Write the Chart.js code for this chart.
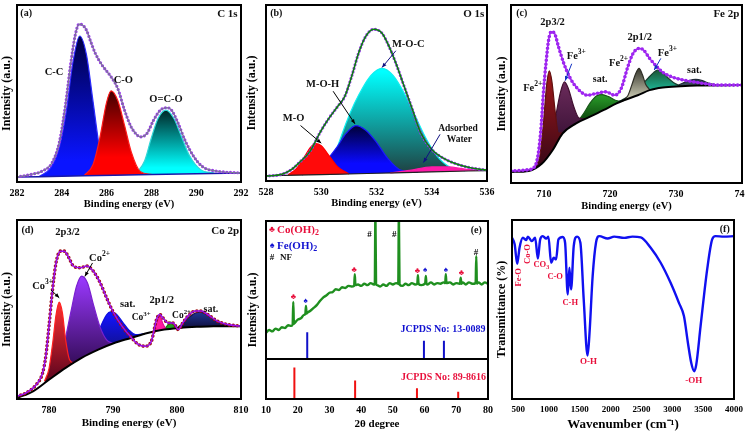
<!DOCTYPE html>
<html>
<head>
<meta charset="utf-8">
<script src="https://cdn.jsdelivr.net/npm/chart.js@4.4.1/dist/chart.umd.min.js"></script>
<style>
  body { margin: 0; background: #fff; width: 745px; height: 432px; position: relative; overflow: hidden; }
  canvas { position: absolute; }
</style>
</head>
<body>
<canvas id="pa"></canvas>
<canvas id="pb"></canvas>
<canvas id="pc"></canvas>
<canvas id="pd"></canvas>
<canvas id="pe1"></canvas>
<canvas id="pe2"></canvas>
<canvas id="pf"></canvas>
<script>
const SERIF = '"Liberation Serif", "Times New Roman", serif';

// ---- (a) C 1s ----
const aTicks = [282, 284, 286, 288, 290, 292];
const aEnvX = [282, 282.7, 283.1, 283.57, 283.9, 284.17, 284.4, 284.6, 284.77, 284.92, 285.1, 285.3, 285.5, 285.8, 286.2, 286.5, 286.8, 287.1, 287.3, 287.5, 287.8, 288.1, 288.4, 288.7, 288.9, 289.2, 289.5, 289.9, 290.3, 290.9, 292];
const aEnvY = [2.8, 4.5, 6, 11, 23, 44, 67, 83, 89.2, 88.7, 85.8, 79, 72.6, 66, 59.4, 52.8, 40.6, 31, 27.4, 25.5, 27.4, 35, 40.6, 42, 40.6, 33, 23.6, 14.2, 8.5, 6.2, 5.1];
const aBaseX = [282, 285, 288, 292];
const aBaseY = [2.8, 3.5, 4.3, 5.1];
const aCCx = [283.0, 283.5, 283.9, 284.2, 284.5, 284.8, 285.1, 285.4, 285.7, 286.0];
const aCCy = [3.2, 8, 20, 40, 68, 82.5, 72, 45, 18, 4.5];
const aCOx = [285.0, 285.4, 285.7, 286.0, 286.2, 286.5, 286.8, 287.1, 287.5, 288.0];
const aCOy = [3.6, 10, 25, 45, 51.5, 46, 32, 17, 6, 4.3];
const aOCOx = [287.3, 287.7, 288.0, 288.3, 288.65, 289.0, 289.3, 289.7, 290.2, 290.8];
const aOCOy = [4.3, 12, 25, 36, 40.6, 36, 27, 15, 7, 5];

// ---- (b) O 1s ----
const bTicks = [528, 530, 532, 534, 536];
const bEnvX = [528, 528.57, 528.93, 529.2, 529.6, 529.95, 530.25, 530.6, 530.85, 531.1, 531.35, 531.6, 531.9, 532.2, 532.4, 532.7, 533.0, 533.3, 533.6, 534.0, 534.5, 534.95, 535.4, 536];
const bEnvY = [2.8, 3.8, 6.6, 10.4, 17, 27.4, 35, 42.5, 48, 59.4, 72.6, 81.9, 86.2, 84, 78.3, 67, 53.8, 40.6, 27.4, 17.9, 12.3, 9.4, 7.5, 6.2];
const bBaseX = [528, 530, 532, 534, 536];
const bBaseY = [3.0, 3.6, 4.4, 5.2, 5.9];
const bMOx = [528.8, 529.1, 529.4, 529.6, 529.8, 530.0, 530.3, 530.6, 531.0];
const bMOy = [3.4, 7, 14, 19, 21.3, 20, 14, 8, 4];
const bMOHx = [529.3, 529.8, 530.2, 530.6, 530.9, 531.25, 531.6, 532.0, 532.4, 532.9, 533.5];
const bMOHy = [3.5, 7, 12, 20, 27, 31.5, 29, 22, 13, 6, 5];
const bMOCx = [530.2, 530.6, 530.9, 531.2, 531.5, 531.8, 532.2, 532.6, 533.0, 533.4, 533.8, 534.2, 534.7, 535.2];
const bMOCy = [4, 20, 33, 44, 53, 60, 64, 60, 50, 37, 24, 14, 7.5, 5.8];
const bH2Ox = [532.5, 533.2, 534.0, 534.6, 535.2, 535.8];
const bH2Oy = [4.6, 6.0, 8.0, 8.0, 6.8, 6.0];

// ---- (c) Fe 2p ----
const cTicks = [710, 720, 730, 740];
const cEnvX = [705, 707.7, 708.7, 709.2, 709.6, 709.9, 710.3, 710.7, 711.1, 711.6, 712.2, 713.0, 714.0, 715.3, 716.6, 717.9, 719.4, 720.7, 721.7, 722.7, 723.5, 724.4, 725.0, 726.0, 727.1, 728.1, 729.6, 731.2, 732.7, 734.2, 736.3, 738.3, 740];
const cEnvY = [6.8, 7.5, 9.9, 18.4, 33.4, 50.3, 67.2, 80.3, 85, 84, 76.5, 67.2, 58.7, 52.2, 49.3, 50.3, 51.2, 49.3, 53.1, 65.3, 72.8, 75.6, 75, 70, 65.3, 61.9, 59.3, 57.8, 56.8, 55.9, 55, 55, 55];
const cBaseX = [705, 707.7, 709.7, 711.3, 712.8, 714.8, 716.9, 719, 721, 722.1, 724.2, 726, 728, 730.7, 733.2, 740];
const cBaseY = [6.2, 6.8, 10.9, 18.4, 27.8, 33.4, 37.1, 40.9, 44.7, 46.5, 49.3, 52.2, 53.7, 54.4, 54.8, 55];
const cFe2x = [708.8, 709.4, 709.9, 710.4, 710.8, 711.2, 711.7, 712.2, 712.8];
const cFe2y = [9.5, 16, 33, 55, 63, 57, 40, 28, 28];
const cFe3x = [710.2, 711.0, 711.8, 712.5, 713.1, 713.7, 714.5, 715.3, 716.2];
const cFe3y = [13, 22, 38, 51, 56.8, 53, 43, 36.5, 36];
const cSat1x = [715.0, 716.0, 717.0, 718.0, 718.8, 719.8, 720.8, 721.8, 722.6];
const cSat1y = [34, 39, 45, 49, 49.7, 48.5, 46.5, 46, 47.5];
const cFe2bx = [722.0, 722.7, 723.3, 723.9, 724.4, 724.9, 725.4, 726.0];
const cFe2by = [46.5, 49, 55, 61.5, 64.4, 61, 55.5, 52.5];
const cFe3bx = [720.8, 722.0, 723.5, 724.8, 725.8, 726.6, 727.2, 728.0, 728.8, 729.6, 730.6];
const cFe3by = [44.5, 47, 50.5, 55, 59, 62, 63.4, 62, 59, 56.5, 54.5];
const cSat2x = [730.0, 731.0, 732.0, 733.0, 734.0, 735.0, 736.5];
const cSat2y = [54.3, 56, 57.6, 58.2, 57.5, 56, 55];

// ---- (d) Co 2p ----
const dTicks = [780, 790, 800, 810];
const dEnvX = [775, 776.4, 778, 779, 779.5, 780, 780.5, 781.1, 781.8, 782.4, 783.1, 783.8, 784.9, 785.9, 786.9, 788, 789, 790.1, 791.4, 792.7, 794, 795, 796, 796.8, 797.3, 797.8, 798.6, 799.4, 800.2, 800.9, 801.7, 802.8, 803.8, 804.8, 806.3, 807.9, 810];
const dEnvY = [1.5, 3.4, 8, 14.5, 23.9, 40.7, 59.3, 76.1, 82.6, 82.6, 78.9, 74.3, 73.3, 74.3, 71.5, 64.9, 56.5, 48.1, 40.7, 35, 30.4, 29.5, 32.3, 44.4, 47.2, 45.3, 42.5, 42.5, 38.8, 42.5, 46.3, 49.1, 49.1, 47.2, 43.5, 41.6, 40.7];
const dBaseX = [775, 777.5, 780, 782.6, 785.1, 787.7, 790.2, 792.8, 795.4, 798, 800.5, 803.1, 805.7, 810];
const dBaseY = [0.6, 4.3, 10.8, 17.4, 23, 27.6, 31.3, 34.1, 36.9, 38.8, 39.7, 40.3, 40.7, 40.7];
const dCo3x = [779.3, 780.0, 780.6, 781.1, 781.6, 782.1, 782.6, 783.2, 783.9];
const dCo3y = [10, 17, 32, 47, 54.1, 48, 33, 22, 20];
const dCo2x = [780.3, 781.5, 782.5, 783.5, 784.3, 785.1, 786.0, 787.0, 788.0, 789.0, 790.0];
const dCo2y = [12, 20, 33, 50, 63, 68.7, 65, 52, 40, 33, 31];
const dSat1x = [785.5, 786.8, 788.0, 789.0, 789.6, 790.5, 791.5, 792.5, 793.5, 795.0];
const dSat1y = [24, 30, 40, 47, 48.7, 47.5, 43, 38.5, 36, 36.5];
const dCo3bx = [796.3, 796.8, 797.3, 797.8, 798.3];
const dCo3by = [38.2, 42, 46.3, 42, 38.9];
const dCo2bx = [798.0, 798.5, 799.0, 799.5, 800.2];
const dCo2by = [38.8, 41, 43, 41, 39.7];
const dSat2x = [800.0, 801.0, 802.0, 803.0, 803.5, 804.5, 805.5, 806.5, 807.5, 808.5];
const dSat2y = [39.7, 42.5, 46, 48.2, 48.5, 47.5, 45, 43, 41.5, 40.7];

// ---- (e) XRD ----
const eTicks = [10, 20, 30, 40, 50, 60, 70, 80];
const eXrdX = [10, 11, 12, 13, 14, 15, 16, 17, 18, 18.4, 18.6, 18.8, 19, 20, 21, 22, 22.4, 22.6, 22.8, 23, 24, 25, 26, 27, 28, 29, 30, 31, 32, 33, 34, 35, 36, 37, 37.8, 38.0, 38.2, 39, 40, 41, 42, 43, 44, 44.3, 44.5, 44.7, 45, 46, 47, 48, 49, 50, 51, 51.7, 51.9, 52.1, 53, 54, 55, 56, 57, 57.7, 57.9, 58.1, 59, 60.2, 60.4, 60.6, 61, 62, 63, 64, 65, 66, 66.5, 66.7, 66.9, 68, 69, 70, 71, 71.2, 71.4, 71.6, 72, 73, 74, 75, 76.1, 76.3, 76.5, 77, 78, 79, 80];
const eXrdY = [19, 21, 20, 22, 21, 23, 22.5, 24.5, 24, 25, 41.4, 25.5, 26, 28.5, 29.5, 32, 32.5, 38.5, 33, 33.5, 35, 37, 39, 42, 44.5, 46, 48, 48.5, 50.5, 50, 52, 51.5, 53, 52.5, 53, 61.4, 53.5, 54, 53, 54.5, 53.5, 55, 54, 54, 105, 54.5, 53.5, 52.5, 54, 53, 55, 54, 55, 54.5, 105, 54, 53, 54.5, 53.5, 55, 54, 54.5, 60.7, 54.5, 53.5, 55, 60.2, 54.5, 54, 55.5, 54, 55, 54.5, 55.5, 55, 61.4, 55, 55.5, 54, 55, 54.5, 55, 59, 54.5, 55.5, 54, 55.5, 54.5, 55, 74.7, 54.5, 55.5, 54, 55.5, 54.5];
const eRefBlueX = [23.0, 59.8, 66.1];
const eRefBlueH = [19.3, 13.3, 13.3];
const eRefRedX = [18.95, 38.1, 57.6, 70.6];
const eRefRedH = [79, 46, 27, 18];

// ---- (f) FTIR ----
const fTicks = [500, 1000, 1500, 2000, 2500, 3000, 3500, 4000];
const fIrX = [400, 443, 485, 522, 576, 630, 657, 722, 776, 819, 857, 900, 953, 991, 1034, 1077, 1115, 1153, 1223, 1261, 1304, 1331, 1358, 1401, 1455, 1509, 1563, 1625, 1654, 1708, 1762, 1816, 1950, 2057, 2219, 2353, 2488, 2649, 2811, 2972, 3107, 3188, 3253, 3307, 3355, 3388, 3458, 3565, 3646, 3700, 3835, 4000];
const fIrY = [90.1, 86.4, 75.5, 84.5, 90.1, 88.8, 90.7, 88.2, 90.1, 78.4, 89.2, 91, 89.6, 90.7, 76.1, 78.9, 78, 89.2, 90.5, 87.3, 58.4, 73.3, 61.2, 85.4, 90.7, 87.3, 55.6, 24.3, 35.1, 68.7, 87.3, 91, 89.7, 90.7, 90, 90.7, 90.3, 84.5, 76.1, 64.9, 53.7, 46.3, 31.3, 20.1, 15.5, 19.2, 40.7, 72.4, 89.2, 91, 90.7, 91];

const RED = '#e8103c';
const BLUE = '#1010d0';

// Funções auxiliares
function curve(xs, ys, o) {
    return Object.assign({
        data: xs.map((x, i) => ({ x: x, y: ys[i] })),
        pointRadius: 0, borderWidth: 1, tension: 0.4,
        cubicInterpolationMode: 'monotone', fill: false
    }, o);
}

// pontinhos do envelope (traço de comprimento zero com ponta redonda)
function dots(xs, ys, color, w) {
    return curve(xs, ys, { borderColor: color, borderWidth: w, borderDash: [0, w + 0.4], borderCapStyle: 'round', order: 1 });
}

// componente preenchido até a linha de base (dataset 1)
function peak(xs, ys, bg, line, order) {
    return curve(xs, ys, { backgroundColor: bg, borderColor: line, borderWidth: 1.2, fill: 1, order: order });
}

function vgrad(c1, v1, c2, v2) {
    return (ctx) => {
        const ch = ctx.chart;
        const y = ch.scales && ch.scales.y;
        if (!ch.chartArea || !y) return c2;
        const g = ch.ctx.createLinearGradient(0, y.getPixelForValue(v1), 0, y.getPixelForValue(v2));
        g.addColorStop(0, c1);
        g.addColorStop(1, c2);
        return g;
    };
}

function segments(xs, hs) {
    const out = [];
    xs.forEach((x, i) => { out.push({ x: x, y: 0 }, { x: x, y: hs[i] }, { x: x, y: null }); });
    return out;
}

function drawRich(ctx, px, py, l) {
    const size = l.s || 10.5;
    const m = l.t.match(/^([^_^]*)([_^])(.*)$/);
    const parts = m ? [[m[1], 0], [m[3], m[2] === '^' ? -1 : 1]] : [[l.t, 0]];
    const fontOf = p => `bold ${p[1] ? size * 0.72 : size}px ${SERIF}`;
    let w = 0;
    parts.forEach(p => { ctx.font = fontOf(p); w += ctx.measureText(p[0]).width; });
    ctx.save();
    ctx.translate(px, py);
    if (l.r) ctx.rotate(l.r * Math.PI / 180);
    let sx = l.a === 'left' ? 0 : l.a === 'right' ? -w : -w / 2;
    ctx.fillStyle = l.c || '#111';
    ctx.textBaseline = 'middle';
    ctx.textAlign = 'left';
    parts.forEach(p => {
        ctx.font = fontOf(p);
        const dy = p[1] < 0 ? -size * 0.4 : p[1] > 0 ? size * 0.3 : 0;
        ctx.fillText(p[0], sx, dy);
        sx += ctx.measureText(p[0]).width;
    });
    ctx.restore();
}

function drawArrow(ctx, x1, y1, x2, y2, color) {
    ctx.strokeStyle = color;
    ctx.fillStyle = color;
    ctx.lineWidth = 1;
    ctx.beginPath(); ctx.moveTo(x1, y1); ctx.lineTo(x2, y2); ctx.stroke();
    const ang = Math.atan2(y2 - y1, x2 - x1), L = 5;
    ctx.beginPath();
    ctx.moveTo(x2, y2);
    ctx.lineTo(x2 - L * Math.cos(ang - 0.4), y2 - L * Math.sin(ang - 0.4));
    ctx.lineTo(x2 - L * Math.cos(ang + 0.4), y2 - L * Math.sin(ang + 0.4));
    ctx.closePath();
    ctx.fill();
}

// moldura, setas e textos
function notes(labels, arrows, yTitle) {
    return {
        id: 'notes',
        afterDraw(chart) {
            const { ctx, chartArea: a, scales: { x, y } } = chart;
            ctx.save();
            ctx.strokeStyle = '#000';
            ctx.lineWidth = 2;
            ctx.strokeRect(a.left, a.top, a.right - a.left, a.bottom - a.top);
            (arrows || []).forEach(r => drawArrow(ctx, x.getPixelForValue(r[0]), y.getPixelForValue(r[1]),
                x.getPixelForValue(r[2]), y.getPixelForValue(r[3]), r[4]));
            (labels || []).forEach(l => drawRich(ctx, x.getPixelForValue(l.x), y.getPixelForValue(l.y), l));
            if (yTitle) drawRich(ctx, yTitle.px, yTitle.py, { t: yTitle.t, s: 12, r: -90, c: '#000' });
            ctx.restore();
        }
    };
}

function panel(id, box, area, o) {
    const cv = document.getElementById(id);
    cv.width = box.w; cv.height = box.h;
    cv.style.left = box.l + 'px'; cv.style.top = box.t + 'px';
    const padB = o.padB || 0;
    const xH = o.xHidden ? 0 : box.t + box.h - area[3] - padB;
    return new Chart(cv, {
        type: 'line',
        data: { datasets: o.datasets },
        options: {
            responsive: false, animation: false, events: [],
            layout: { padding: { left: area[0] - box.l - o.yW, right: box.l + box.w - area[2], top: area[1] - box.t, bottom: o.xHidden ? box.t + box.h - area[3] : padB } },
            plugins: { legend: { display: false }, tooltip: { enabled: false } },
            scales: {
                x: {
                    type: 'linear', min: o.xMin, max: o.xMax, display: !o.xHidden,
                    afterBuildTicks: s => { s.ticks = o.xTicks.map(v => ({ value: v })); },
                    afterFit: s => { s.height = xH; s.paddingLeft = 0; s.paddingRight = 0; },
                    grid: { display: false, drawTicks: false }, border: { display: false },
                    ticks: { color: '#000', padding: 5, maxRotation: 0, autoSkip: false, callback: v => String(v), font: { family: SERIF, size: o.tickSize || 10, weight: 'bold' } },
                    title: { display: !!o.xTitle, text: o.xTitle, color: '#000', padding: 0, font: { family: SERIF, size: o.xTitleSize || 11, weight: 'bold' } }
                },
                y: {
                    min: 0, max: 100,
                    afterFit: s => { s.width = o.yW; },
                    grid: { display: false, drawTicks: false }, border: { display: false },
                    ticks: { display: false },
                    title: { display: !!o.yTitle, text: o.yTitle, color: '#000', padding: 0, font: { family: SERIF, size: 12, weight: 'bold' } }
                }
            }
        },
        plugins: [notes(o.labels, o.arrows, o.manualY)]
    });
}

// ---- montar painéis ----
panel('pa', { l: 0, t: 0, w: 256, h: 216 }, [17, 5, 241, 182], {
    xMin: 282, xMax: 292, xTicks: aTicks, xTitle: 'Binding energy (eV)', yTitle: 'Intensity (a.u.)', yW: 17, padB: 5, xTitleSize: 10.5,
    datasets: [
        curve(aEnvX, aEnvY, { borderColor: '#7a7a92', borderWidth: 1.2, order: 0 }),
        curve(aBaseX, aBaseY, { borderColor: '#1818a8', borderWidth: 1.5, order: 2 }),
        dots(aEnvX, aEnvY, '#9a35f0', 3.2),
        peak(aCCx, aCCy, vgrad('#000048', 80, '#0a14ff', 12), '#2a2aff', 5),
        peak(aCOx, aCOy, vgrad('#4a0000', 50, '#ff0000', 14), '#ff1a1a', 3),
        peak(aOCOx, aOCOy, vgrad('#002a2a', 40, '#00ffff', 8), '#30d8d8', 4)
    ],
    labels: [
        { x: 282.15, y: 95, t: '(a)', a: 'left', s: 10 },
        { x: 291.85, y: 95, t: 'C 1s', a: 'right', s: 11 },
        { x: 283.65, y: 62, t: 'C-C' },
        { x: 286.75, y: 57.5, t: 'C-O' },
        { x: 288.65, y: 47, t: 'O=C-O' }
    ]
});

panel('pb', { l: 240, t: 0, w: 256, h: 216 }, [266, 5, 487, 181], {
    xMin: 528, xMax: 536, xTicks: bTicks, xTitle: 'Binding energy (eV)', yTitle: 'Intensity (a.u.)', yW: 21, padB: 6, xTitleSize: 10.5,
    datasets: [
        curve(bEnvX, bEnvY, { borderColor: '#0a820a', borderWidth: 1.5, order: 0 }),
        curve(bBaseX, bBaseY, { borderColor: '#202020', borderWidth: 1.2, order: 2 }),
        dots(bEnvX, bEnvY, '#9a35f0', 3.2),
        peak(bMOx, bMOy, '#ff0a0a', '#ff0000', 3),
        peak(bMOHx, bMOHy, vgrad('#00003a', 31, '#0a0aff', 10), '#1a1aff', 4),
        peak(bMOCx, bMOCy, vgrad('#00ffff', 62, '#1e4646', 6), '#10f0f0', 5),
        peak(bH2Ox, bH2Oy, '#ff1aa8', '#ff1aa8', 3)
    ],
    labels: [
        { x: 528.15, y: 95, t: '(b)', a: 'left', s: 10 },
        { x: 535.9, y: 95, t: 'O 1s', a: 'right', s: 11 },
        { x: 529.0, y: 35.5, t: 'M-O' },
        { x: 530.05, y: 55, t: 'M-O-H' },
        { x: 533.15, y: 77.5, t: 'M-O-C' },
        { x: 534.95, y: 30, t: 'Adsorbed', s: 9.5 },
        { x: 535.0, y: 23.5, t: 'Water', s: 9.5 }
    ],
    arrows: [
        [529.25, 31.5, 530.0, 21.5, '#000'],
        [530.43, 51, 531.22, 32.5, '#000'],
        [532.7, 74, 532.2, 64.5, '#101080'],
        [534.3, 26.5, 533.7, 10.5, '#101080']
    ]
});

panel('pc', { l: 490, t: 0, w: 255, h: 216 }, [511, 5, 742, 183], {
    xMin: 705, xMax: 740, xTicks: cTicks, xTitle: 'Binding energy (eV)', yTitle: 'Intensity (a.u.)', yW: 16, padB: 3, xTitleSize: 10.5,
    datasets: [
        curve(cEnvX, cEnvY, { borderColor: '#a028f0', borderWidth: 1.5, order: 0 }),
        curve(cBaseX, cBaseY, { borderColor: '#000', borderWidth: 2, order: 2 }),
        dots(cEnvX, cEnvY, '#9a20f0', 3.6),
        peak(cFe2x, cFe2y, vgrad('#a01818', 62, '#3a0818', 10), '#601010', 3),
        peak(cFe3x, cFe3y, vgrad('#6a2a5a', 56, '#2a0a2a', 14), '#401030', 4),
        peak(cSat1x, cSat1y, vgrad('#2aa02a', 50, '#0e4a0e', 36), '#185818', 5),
        peak(cFe2bx, cFe2by, vgrad('#3a3a30', 64, '#d0d0b8', 47), '#303028', 3),
        peak(cFe3bx, cFe3by, vgrad('#1a5a3a', 63, '#20e8c8', 46), '#184030', 4),
        peak(cSat2x, cSat2y, vgrad('#2a3a4a', 58, '#4a5a6a', 54), '#202a3a', 5)
    ],
    labels: [
        { x: 705.8, y: 95, t: '(c)', a: 'left', s: 10 },
        { x: 739.6, y: 95, t: 'Fe 2p', a: 'right', s: 11 },
        { x: 711.3, y: 90.5, t: '2p3/2' },
        { x: 708.3, y: 53, t: 'Fe^2+' },
        { x: 714.9, y: 71, t: 'Fe^3+' },
        { x: 718.5, y: 58, t: 'sat.', s: 10 },
        { x: 724.5, y: 82, t: '2p1/2' },
        { x: 721.3, y: 67, t: 'Fe^2+' },
        { x: 728.7, y: 73, t: 'Fe^3+' },
        { x: 732.8, y: 63.5, t: 'sat.', s: 10 }
    ],
    arrows: [
        [714.2, 67, 713.2, 57.5, '#1030c0'],
        [727.7, 70, 726.7, 63.5, '#1030c0']
    ]
});

panel('pd', { l: 0, t: 216, w: 256, h: 216 }, [17, 220, 241, 399], {
    xMin: 775, xMax: 810, xTicks: dTicks, xTitle: 'Binding energy (eV)', yTitle: 'Intensity (a.u.)', yW: 17, padB: 2, xTitleSize: 11,
    datasets: [
        curve(dEnvX, dEnvY, { borderColor: '#9a10f0', borderWidth: 1.5, order: 0 }),
        curve(dBaseX, dBaseY, { borderColor: '#000', borderWidth: 2, order: 2 }),
        dots(dEnvX, dEnvY, '#a01010', 3.6),
        peak(dCo3x, dCo3y, vgrad('#ff3030', 54, '#6a0820', 14), '#ff2020', 3),
        peak(dCo2x, dCo2y, vgrad('#9a38ff', 68, '#2a0848', 14), '#7a20d0', 4),
        peak(dSat1x, dSat1y, vgrad('#1414ff', 48, '#10107a', 25), '#1010e0', 5),
        peak(dCo3bx, dCo3by, '#ff1aa0', '#e01090', 3),
        peak(dCo2bx, dCo2by, '#20a020', '#108010', 3),
        peak(dSat2x, dSat2y, vgrad('#203490', 48, '#101040', 40), '#101050', 5)
    ],
    labels: [
        { x: 775.7, y: 94, t: '(d)', a: 'left', s: 10 },
        { x: 809.7, y: 94, t: 'Co 2p', a: 'right', s: 11 },
        { x: 782.9, y: 93, t: '2p3/2' },
        { x: 779.0, y: 63, t: 'Co^3+' },
        { x: 787.9, y: 78.5, t: 'Co^2+' },
        { x: 792.3, y: 53, t: 'sat.' },
        { x: 797.6, y: 55, t: '2p1/2' },
        { x: 794.4, y: 45.5, t: 'Co^3+', s: 9.5 },
        { x: 800.7, y: 46.5, t: 'Co^2+', s: 9.5 },
        { x: 805.3, y: 50, t: 'sat.', s: 10 }
    ],
    arrows: [
        [780.3, 61, 781.6, 56.5, '#000'],
        [786.8, 76, 785.6, 68.5, '#000']
    ]
});

// (e) parte de cima: difratograma e padrão azul
panel('pe1', { l: 240, t: 216, w: 256, h: 216 }, [266, 221, 488, 359], {
    xMin: 10, xMax: 80, xTicks: eTicks, xHidden: true, yW: 21,
    manualY: { t: 'Intensity (a.u.)', px: 13, py: 94 },
    datasets: [
        curve(eXrdX, eXrdY, { borderColor: '#1f8f1f', borderWidth: 2.4, tension: 0, order: 1 }),
        { data: segments(eRefBlueX, eRefBlueH), borderColor: '#1010c8', borderWidth: 2, pointRadius: 0, tension: 0, spanGaps: false, order: 0 }
    ],
    labels: [
        { x: 11.9, y: 93.7, t: '♣', c: RED, s: 9 },
        { x: 13.5, y: 93.7, t: 'Co(OH)_2', c: RED, a: 'left', s: 11 },
        { x: 11.9, y: 82, t: '♠', c: BLUE, s: 9 },
        { x: 13.5, y: 82, t: 'Fe(OH)_2', c: BLUE, a: 'left', s: 11 },
        { x: 11.9, y: 73.2, t: '#', c: '#000', s: 9 },
        { x: 14.4, y: 73.2, t: 'NF', a: 'left', s: 9 },
        { x: 76.3, y: 93, t: '(e)', s: 10 },
        { x: 18.6, y: 45, t: '♣', c: RED, s: 8 },
        { x: 37.8, y: 64.6, t: '♣', c: RED, s: 8 },
        { x: 57.7, y: 64, t: '♣', c: RED, s: 8 },
        { x: 71.6, y: 62.7, t: '♣', c: RED, s: 8 },
        { x: 22.5, y: 42.2, t: '♠', c: BLUE, s: 8 },
        { x: 60.2, y: 64.3, t: '♠', c: BLUE, s: 8 },
        { x: 66.7, y: 64.3, t: '♠', c: BLUE, s: 8 },
        { x: 42.6, y: 90.4, t: '#', c: '#000', s: 9 },
        { x: 50.4, y: 90.4, t: '#', c: '#000', s: 9 },
        { x: 76.2, y: 77.1, t: '#', c: '#000', s: 9 },
        { x: 65.8, y: 21.5, t: 'JCPDS No: 13-0089', c: BLUE, s: 10 }
    ]
});

// (e) parte de baixo: padrão vermelho
panel('pe2', { l: 240, t: 356, w: 256, h: 76 }, [266, 359, 488, 399], {
    xMin: 10, xMax: 80, xTicks: eTicks, xTitle: '2θ degree', yW: 21, padB: 1, xTitleSize: 11,
    datasets: [
        { data: segments(eRefRedX, eRefRedH), borderColor: '#f01010', borderWidth: 2, pointRadius: 0, tension: 0, spanGaps: false }
    ],
    labels: [
        { x: 66, y: 53, t: 'JCPDS No: 89-8616', c: RED, s: 10 }
    ]
});

panel('pf', { l: 490, t: 216, w: 255, h: 216 }, [512, 220, 734, 399], {
    xMin: 400, xMax: 4000, xTicks: fTicks, xTitle: 'Wavenumber (cm⁻¹)', yTitle: 'Transmittance (%)', yW: 17, padB: 0, xTitleSize: 13, tickSize: 9,
    datasets: [
        curve(fIrX, fIrY, { borderColor: '#1010f0', borderWidth: 2.4, tension: 0.3 })
    ],
    labels: [
        { x: 3850, y: 94.8, t: '(f)', s: 10 },
        { x: 505, y: 68, t: 'Fe-O', c: RED, s: 8.5, r: -90 },
        { x: 660, y: 81, t: 'Co-O', c: RED, s: 8.5, r: -90 },
        { x: 875, y: 75, t: 'CO_3', c: RED, s: 8.5 },
        { x: 1100, y: 68, t: 'C-O', c: RED, s: 8.5 },
        { x: 1345, y: 54, t: 'C-H', c: RED, s: 8.5 },
        { x: 1642, y: 20.7, t: 'O-H', c: RED, s: 9 },
        { x: 3349, y: 10.4, t: '-OH', c: RED, s: 9 }
    ]
});
</script>
</body>
</html>
